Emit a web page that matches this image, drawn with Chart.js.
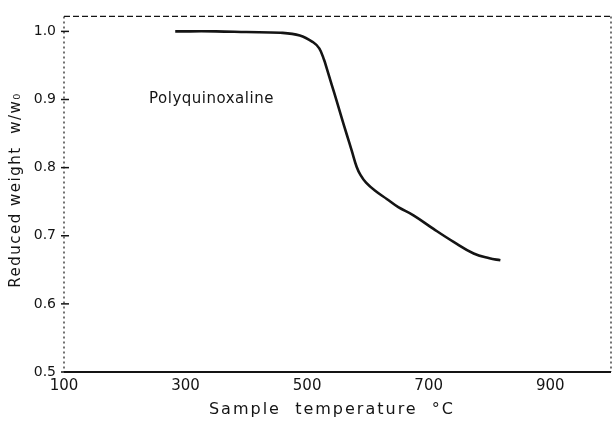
<!DOCTYPE html>
<html>
<head>
<meta charset="utf-8">
<script src="https://cdn.jsdelivr.net/npm/chart.js@4"></script>
<style>
  html, body { margin: 0; padding: 0; background: #fff; }
  #wrap { width: 612px; height: 427px; }
</style>
</head>
<body>
<div id="wrap"><canvas id="grafico" width="612" height="427"></canvas></div>
<script>
// valores (temperatura em °C, peso reduzido w/w0)
const temperaturas = [283, 350, 400, 456, 488, 510, 520, 528, 532.2, 540.4, 548.6, 556.9, 565.1, 573.4, 581.6, 588, 597, 612, 631, 650, 675, 708, 741, 774, 800, 818];
const pesos = [1.000, 1.000, 0.999, 0.998, 0.994, 0.984, 0.975, 0.958, 0.946, 0.922, 0.898, 0.873, 0.849, 0.825, 0.801, 0.789, 0.778, 0.766, 0.754, 0.742, 0.730, 0.710, 0.691, 0.674, 0.667, 0.664];
const ticksX = [100, 300, 500, 700, 900];
const ticksY = [0.5, 0.6, 0.7, 0.8, 0.9, 1.0];
const rotuloCurva = 'Polyquinoxaline';

const tinta = '#141414';
const fonte = '"DejaVu Sans", sans-serif';

// moldura, marcas e textos do gráfico
const extras = {
  id: 'extras',
  afterDraw(chart) {
    const ctx = chart.ctx;
    const a = chart.chartArea;
    const sx = chart.scales.x, sy = chart.scales.y;
    ctx.save();
    ctx.strokeStyle = tinta;
    ctx.lineWidth = 1.2;
    ctx.setLineDash([6, 3]);
    ctx.beginPath();
    ctx.moveTo(a.left, a.top); ctx.lineTo(a.right, a.top);
    ctx.stroke();
    ctx.setLineDash([2, 3]);
    ctx.beginPath();
    ctx.moveTo(a.right, a.top); ctx.lineTo(a.right, a.bottom);
    ctx.moveTo(a.left, a.top); ctx.lineTo(a.left, a.bottom);
    ctx.stroke();
    ctx.setLineDash([]);
    ctx.lineWidth = 2;
    ctx.beginPath();
    ctx.moveTo(a.left, a.bottom); ctx.lineTo(a.right, a.bottom);
    ctx.stroke();

    // marcas curtas no eixo y
    ctx.lineWidth = 1.5;
    ticksY.forEach(v => {
      const y = sy.getPixelForValue(v);
      ctx.beginPath();
      ctx.moveTo(a.left - 3, y); ctx.lineTo(a.left + 5, y);
      ctx.stroke();
    });

    ctx.fillStyle = tinta;
    ctx.textBaseline = 'middle';
    ctx.textAlign = 'left';
    ctx.font = '15px ' + fonte;
    ctx.letterSpacing = '0.5px';
    ctx.fillText(rotuloCurva, sx.getPixelForValue(240), sy.getPixelForValue(0.9));

    ctx.textAlign = 'center';
    ctx.font = '16px ' + fonte;
    ctx.letterSpacing = '2px';
    ctx.fillText('Sample  temperature  °C', 332, 410);

    ctx.save();
    ctx.translate(16, 190);
    ctx.rotate(-Math.PI / 2);
    ctx.font = '15px ' + fonte;
    ctx.letterSpacing = '1.5px';
    ctx.fillText('Reduced weight  w/w\u2080', 0, 0);
    ctx.restore();
    ctx.restore();
  }
};

const grafico = new Chart(document.getElementById('grafico').getContext('2d'), {
  type: 'line',
  data: {
    datasets: [{
      label: rotuloCurva,
      data: temperaturas.map((t, i) => ({ x: t, y: pesos[i] })),
      borderColor: tinta,
      borderWidth: 2.6,
      pointRadius: 0,
      fill: false,
      tension: 0.4
    }]
  },
  options: {
    responsive: false,
    animation: false,
    layout: { padding: { top: 13, right: 1, left: 0, bottom: 0 } },
    plugins: {
      legend: { display: false },
      tooltip: { enabled: false }
    },
    scales: {
      x: {
        type: 'linear',
        min: 100,
        max: 1000,
        grid: { display: false, drawTicks: false },
        border: { display: false },
        afterBuildTicks: s => { s.ticks = ticksX.map(v => ({ value: v })); },
        afterFit: s => { s.height = 55; },
        ticks: {
          color: tinta,
          padding: 5,
          maxRotation: 0,
          font: { family: fonte, size: 15 }
        }
      },
      y: {
        min: 0.5,
        max: 1.022,
        grid: { display: false, drawTicks: false },
        border: { display: false },
        afterBuildTicks: s => { s.ticks = ticksY.map(v => ({ value: v })); },
        afterFit: s => { s.width = 64; },
        ticks: {
          color: tinta,
          padding: 8,
          callback: v => v.toFixed(1),
          font: { family: fonte, size: 14 }
        }
      }
    }
  },
  plugins: [extras]
});
</script>
</body>
</html>
